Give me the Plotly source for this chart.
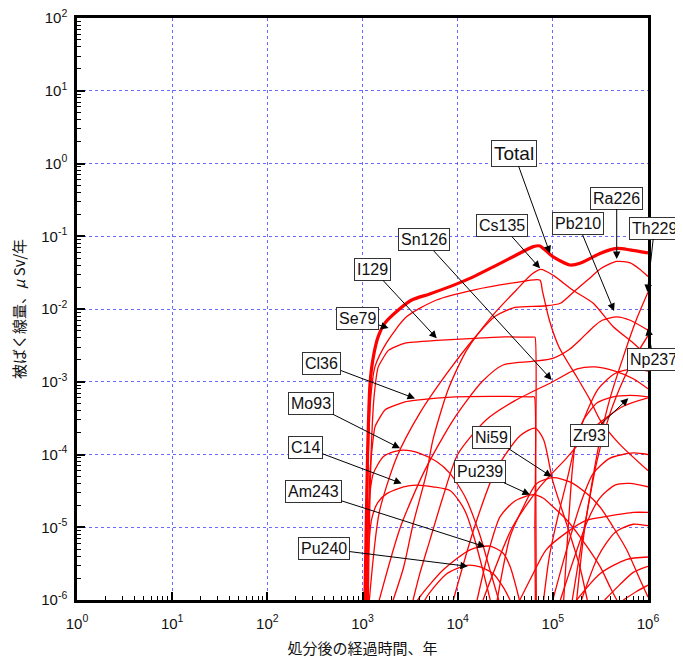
import math
import plotly.graph_objects as go

# ---------------- data (years after disposal, dose uSv/y) ----------------
total_t = [1060, 1100, 1133, 1200, 1300, 1465, 1720, 2380, 3290, 5000, 8300, 14000, 23700, 40000,
           62300, 73300, 79400, 101000, 151000, 193000, 250000, 313000, 469000, 647000, 1000000]
total_d = [1e-6, 1.5e-5, 1.15e-4, 9.5e-4, 2.2e-3, 4.2e-3, 6.4e-3, 9.7e-3, 1.33e-2, 1.6e-2, 2.03e-2, 2.7e-2,
           3.8e-2, 5.4e-2, 7.2e-2, 7.35e-2, 6.8e-2, 5.2e-2, 4.03e-2, 4.25e-2, 5.0e-2, 5.8e-2, 6.8e-2, 6.5e-2, 5.9e-2]

se79_t = [1080, 1110, 1150, 1220, 1350, 1780, 2900, 6000, 14600, 40000, 73000, 77500, 92000, 116000,
          178000, 247000, 313000, 500000, 1000000]
se79_d = [1e-6, 1e-5, 1e-4, 6e-4, 1.6e-3, 3.4e-3, 7.8e-3, 1.33e-2, 1.82e-2, 2.3e-2, 2.5e-2, 1.8e-2, 7e-3,
          3e-3, 1.17e-3, 5.6e-4, 3e-4, 1.4e-4, 6e-5]

i129_t = [1150, 1180, 1230, 1320, 1465, 1870, 2800, 6000, 15000, 31400, 60000, 65000, 66000, 67000]
i129_d = [1e-6, 1e-5, 1e-4, 6e-4, 1.6e-3, 2.7e-3, 3.4e-3, 3.7e-3, 3.95e-3, 4.15e-3, 4.1e-3, 4.1e-3, 1e-4, 1e-6]

cl36_t = [1120, 1150, 1200, 1353, 1720, 2800, 3710, 9370, 31400, 58000, 64000, 64800, 65500]
cl36_d = [1e-6, 1e-5, 6e-5, 2.4e-4, 4.1e-4, 5.3e-4, 5.6e-4, 6.2e-4, 6.3e-4, 6.2e-4, 6.2e-4, 1e-5, 1e-6]

mo93_t = [1100, 1140, 1200, 1300, 1650, 2100, 2700, 4000, 6000, 8300, 12000, 17000, 22000, 27000]
mo93_d = [1e-6, 1e-5, 3e-5, 5.5e-5, 9.3e-5, 1.09e-4, 1.15e-4, 1.04e-4, 8e-5, 5.5e-5, 2.6e-5, 8e-6, 2.5e-6, 1e-6]

c14_t = [1120, 1160, 1250, 1450, 1800, 2700, 3700, 5500, 8300, 10600, 12400, 15000, 18500, 22000]
c14_d = [1e-6, 5e-6, 1.3e-5, 2.2e-5, 2.9e-5, 3.6e-5, 3.8e-5, 3.6e-5, 3.2e-5, 2.2e-5, 1.5e-5, 7e-6, 2.5e-6, 1e-6]

am243_t = [3200, 4000, 7060, 13500, 21900, 30100, 35500, 43000, 50000]
am243_d = [7e-7, 1.1e-6, 2.6e-6, 4.9e-6, 5.5e-6, 4.4e-6, 2.9e-6, 1.2e-6, 5e-7]

pu240_t = [4000, 4720, 7670, 12440, 17200, 23700, 30100, 35500]
pu240_d = [7e-7, 1.1e-6, 2.3e-6, 3e-6, 2.85e-6, 2.3e-6, 1.5e-6, 1e-6]

pu239_t = [16000, 21000, 27900, 40000, 62400, 79400, 101000, 140000, 193000, 313000, 400000, 470000]
pu239_d = [1e-6, 4.5e-6, 1.4e-5, 2.3e-5, 2.8e-5, 2.5e-5, 1.9e-5, 1.26e-5, 7.4e-6, 2.9e-6, 1.5e-6, 1e-6]

ni59_t = [26000, 35500, 49000, 67600, 101000, 151000, 227000, 313000, 432000, 597000, 825000, 1000000]
ni59_d = [1e-6, 7.4e-6, 1.9e-5, 4e-5, 4.8e-5, 4.2e-5, 2.9e-5, 1.9e-5, 1e-5, 4.9e-6, 1.9e-6, 1.1e-6]

zr93_t = [130000, 145000, 160000, 175000, 210000, 235000, 290000, 430000, 650000, 1000000]
zr93_d = [1e-6, 1e-5, 6e-5, 1.6e-4, 3e-4, 3.7e-4, 5.1e-4, 6.2e-4, 6.5e-4, 6.2e-4]

np237_t = [160000, 200000, 250000, 290000, 400000, 550000, 700000, 1000000]
np237_d = [1e-6, 6e-6, 3e-5, 8e-5, 3.7e-4, 1.06e-3, 2e-3, 4.3e-3]

th229_t = [178000, 208000, 247000, 313000, 400000, 550000, 750000, 1000000]
th229_d = [1e-6, 6.6e-6, 2.9e-5, 1.6e-4, 6e-4, 2.2e-3, 7e-3, 1.7e-2]

ra226_t = [1180, 1500, 2300, 4000, 7700, 15000, 25000, 40000, 80000, 120000, 164000, 240000, 320000,
           470000, 650000, 800000, 1000000]
ra226_d = [1e-6, 1.6e-5, 9.3e-5, 3.7e-4, 1.3e-3, 4e-3, 8e-3, 1.05e-2, 1.1e-2, 1.2e-2, 1.7e-2, 2.6e-2,
           3.6e-2, 4.5e-2, 4.3e-2, 3.6e-2, 2.8e-2]

pb210_t = [1500, 2500, 4500, 9000, 18000, 30000, 60000, 100000, 150000, 193000, 260000, 330000, 470000,
           650000, 1000000]
pb210_d = [1e-6, 1e-5, 6e-5, 3e-4, 1e-3, 1.7e-3, 1.9e-3, 2.1e-3, 2.8e-3, 3.75e-3, 5.5e-3, 7e-3, 7.8e-3,
           7e-3, 5.1e-3]

cs135_t = [2100, 2700, 3400, 4700, 5500, 8000, 12400, 23000, 41000, 60000, 75000, 101000, 164000, 266000,
           432000, 700000, 1000000]
cs135_d = [1e-6, 2.8e-6, 1.1e-5, 5.5e-5, 1.6e-4, 8e-4, 2.7e-3, 8e-3, 1.8e-2, 3e-2, 3.5e-2, 2.9e-2,
           1.8e-2, 1.2e-2, 5.7e-3, 3.4e-3, 2.2e-3]

sn126_t = [3400, 4000, 5100, 7000, 10000, 20000, 40000, 100000, 180000, 280000, 450000, 700000, 1000000]
sn126_d = [1e-6, 2.3e-6, 6.6e-6, 2.6e-5, 1e-4, 3e-4, 5.5e-4, 1e-3, 1.5e-3, 1.6e-3, 1.4e-3, 1.1e-3, 8e-4]

# other (unlabelled) nuclides
u1_t = [18500, 37600, 72000, 140000, 266000, 550000, 1000000]
u1_d = [1e-6, 1e-5, 3.5e-5, 9e-5, 2.3e-4, 4.6e-4, 6e-4]
u2_t = [100000, 140000, 200000, 266000, 400000, 700000, 1000000]
u2_d = [1e-6, 5e-6, 2.3e-5, 5.5e-5, 8.9e-5, 1.05e-4, 1e-4]
u3_t = [120000, 170000, 230000, 310000, 450000, 650000, 1000000]
u3_d = [1e-6, 4e-6, 1.2e-5, 2.5e-5, 3.8e-5, 4e-5, 3.6e-5]
u4_t = [200000, 300000, 450000, 700000, 1000000]
u4_d = [1e-6, 4e-6, 8.5e-6, 1.1e-5, 1.05e-5]
u5_t = [350000, 500000, 700000, 1000000]
u5_d = [1e-6, 1.6e-6, 2.4e-6, 2.9e-6]
u6_t = [550000, 750000, 1000000]
u6_d = [1e-6, 1.3e-6, 1.6e-6]
u7_t = [9000, 15000, 25000, 45000, 65000, 80000, 100000, 140000, 193000, 230000]
u7_d = [1e-6, 1e-5, 6e-5, 1.8e-4, 2.3e-4, 1.6e-4, 4.3e-5, 1.1e-5, 2.8e-6, 1e-6]
u8_t = [80000, 92000, 113000, 140000, 178000, 230000, 300000, 450000, 700000, 1000000]
u8_d = [1e-6, 4e-6, 1.4e-5, 4.3e-5, 1.6e-4, 4e-4, 8e-4, 1.3e-3, 1.5e-3, 1.4e-3]
u9_t = [45000, 62000, 85000, 140000, 227000, 360000, 700000, 1000000]
u9_d = [1e-6, 2.3e-6, 4.9e-6, 8.5e-6, 1.25e-5, 1.4e-5, 1.6e-5, 1.6e-5]
u10_t = [178000, 313000, 590000, 1000000]
u10_d = [1e-6, 2.3e-6, 3.6e-6, 3.9e-6]

x_tick_vals = [1, 10, 100, 1000, 10000, 100000, 1000000]
x_tick_text = ["10<sup>0</sup>", "10<sup>1</sup>", "10<sup>2</sup>", "10<sup>3</sup>",
               "10<sup>4</sup>", "10<sup>5</sup>", "10<sup>6</sup>"]
y_tick_vals = [1e-6, 1e-5, 1e-4, 1e-3, 1e-2, 1e-1, 1, 10, 100]
y_tick_text = ["10<sup>-6</sup>", "10<sup>-5</sup>", "10<sup>-4</sup>", "10<sup>-3</sup>", "10<sup>-2</sup>",
               "10<sup>-1</sup>", "10<sup>0</sup>", "10<sup>1</sup>", "10<sup>2</sup>"]

# label name, arrow tip (years, dose), box offset in px (dx, dy), font size
labels = [
    ("Total", 93300, 0.0583, -36, -100, 19),
    ("Cs135", 73300, 0.0362, -38, -43, 16),
    ("Sn126", 97300, 1.06e-3, -128, -140, 16),
    ("I129", 6030, 3.95e-3, -64, -69, 16),
    ("Se79", 1880, 5.5e-3, -31, -9, 16),
    ("Cl36", 3560, 5.9e-4, -93, -35, 16),
    ("Mo93", 2480, 1.22e-4, -89, -45, 16),
    ("C14", 2580, 4.0e-5, -96, -36, 16),
    ("Am243", 19400, 5.4e-6, -172, -55, 16),
    ("Pu240", 12800, 2.9e-6, -144, -18, 16),
    ("Pu239", 57500, 2.8e-5, -50, -23, 16),
    ("Ni59", 97300, 4.95e-5, -60, -39, 16),
    ("Zr93", 621000, 5.93e-4, -39, 37, 16),
    ("Np237", 1000000, 5.5e-3, 5, 32, 16),
    ("Ra226", 469000, 4.86e-2, 0, -61, 16),
    ("Pb210", 440000, 9.4e-3, -36, -87, 16),
    ("Th229", 985000, 1.71e-2, 7, -64, 16),
]

# ---------------- figure ----------------
fig = go.Figure()

thin = [(se79_t, se79_d), (mo93_t, mo93_d), (c14_t, c14_d), (am243_t, am243_d), (pu240_t, pu240_d),
        (pu239_t, pu239_d), (ni59_t, ni59_d), (zr93_t, zr93_d), (np237_t, np237_d), (th229_t, th229_d),
        (ra226_t, ra226_d), (pb210_t, pb210_d), (cs135_t, cs135_d), (sn126_t, sn126_d),
        (u1_t, u1_d), (u2_t, u2_d), (u3_t, u3_d), (u4_t, u4_d), (u5_t, u5_d), (u6_t, u6_d),
        (u7_t, u7_d), (u8_t, u8_d), (u9_t, u9_d), (u10_t, u10_d)]
for t, d in thin:
    fig.add_trace(go.Scatter(x=t, y=d, mode="lines", hoverinfo="skip", showlegend=False,
                             line=dict(color="#ff0000", width=1.3, shape="spline", smoothing=0.7)))
for t, d in [(i129_t, i129_d), (cl36_t, cl36_d)]:
    fig.add_trace(go.Scatter(x=t, y=d, mode="lines", hoverinfo="skip", showlegend=False,
                             line=dict(color="#ff0000", width=1.3, shape="spline", smoothing=0.4)))
fig.add_trace(go.Scatter(x=total_t, y=total_d, mode="lines", hoverinfo="skip", showlegend=False,
                         line=dict(color="#ff0000", width=3.2, shape="spline", smoothing=0.7)))

minor_x = [k * 10 ** p for p in range(0, 6) for k in range(2, 10)]
minor_y = [k * 10.0 ** p for p in range(-6, 2) for k in range(2, 10)]

grid_col = "rgba(80,80,255,0.85)"
common = dict(type="log", showline=True, linecolor="black", linewidth=2.5, mirror=True,
              ticks="inside", ticklen=8, tickwidth=1.5, tickcolor="black", automargin=False,
              ticklabeloverflow="allow",
              showgrid=True, gridcolor=grid_col, griddash="dot", gridwidth=1, zeroline=False,
              tickfont=dict(family="Liberation Sans, Arial", size=15, color="#111"))

fig.update_xaxes(range=[0, 6], tickvals=x_tick_vals, ticktext=x_tick_text, ticklabelstandoff=8,
                 minor=dict(tickvals=minor_x, ticks="inside", ticklen=4, tickwidth=1, tickcolor="black",
                            showgrid=False),
                 title=dict(text="処分後の経過時間、年", standoff=18,
                            font=dict(family="Noto Sans CJK JP", size=15, color="#111")),
                 **common)
fig.update_yaxes(range=[-6, 2], tickvals=y_tick_vals, ticktext=y_tick_text, ticklabelstandoff=4,
                 minor=dict(tickvals=minor_y, ticks="inside", ticklen=4, tickwidth=1, tickcolor="black",
                            showgrid=False),
                 title=dict(text="被ばく線量、<i>μ</i> Sv/年", standoff=14,
                            font=dict(family="Noto Sans CJK JP", size=15, color="#111")),
                 **common)

for name, t, d, dx, dy, fs in labels:
    fig.add_annotation(x=math.log10(t), y=math.log10(d), xref="x", yref="y", text=name,
                       showarrow=True, ax=dx, ay=dy, arrowhead=2, arrowsize=1.5, arrowwidth=1,
                       arrowcolor="black", bordercolor="#333", borderwidth=1, borderpad=2,
                       bgcolor="white", font=dict(family="Liberation Sans, Arial", size=fs, color="#111"))

# the page body adds an 8 px offset, so the figure is 8 px smaller each way
fig.update_layout(width=675, height=650, margin=dict(l=69, r=35, t=10, b=58, autoexpand=False),
                  paper_bgcolor="white", plot_bgcolor="white", showlegend=False)

fig.write_html("out.html")
